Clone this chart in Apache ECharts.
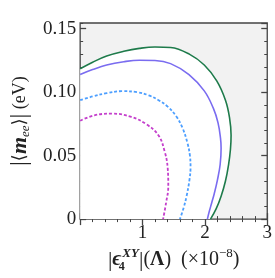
<!DOCTYPE html>
<html><head><meta charset="utf-8">
<script src="https://cdn.jsdelivr.net/npm/echarts@6/dist/echarts.min.js"></script>
<style>html,body{margin:0;padding:0;background:#fff}#c{width:275px;height:278px}</style>
</head><body><div id="c"></div>
<script>
// tick labels
const xTickValues = [1, 2, 3];
const xTickLabels = ['1', '2', '3'];
const yTickValues = [0, 0.05, 0.10, 0.15];
const yTickLabels = ['0', '0.05', '0.10', '0.15'];

// outer green contour
const greenX = [0, 0.2, 0.425, 0.7, 0.95, 1.2, 1.45, 1.75, 1.99, 2.19, 2.33, 2.395, 2.42, 2.41, 2.38, 2.33, 2.26, 2.18, 2.09];
const greenY = [0.1184, 0.1236, 0.1285, 0.1322, 0.1345, 0.1356, 0.1352, 0.1300, 0.1214, 0.1089, 0.0937, 0.0800, 0.0660, 0.0550, 0.0430, 0.0300, 0.0180, 0.0080, 0];
// purple contour
const purpleX = [0, 0.2, 0.425, 0.7, 0.95, 1.2, 1.45, 1.745, 1.99, 2.135, 2.21, 2.25, 2.26, 2.245, 2.2, 2.15, 2.11, 2.07, 2.04];
const purpleY = [0.1139, 0.1178, 0.1214, 0.1240, 0.1252, 0.1250, 0.1225, 0.1139, 0.1010, 0.0874, 0.0760, 0.0640, 0.0558, 0.0430, 0.0305, 0.0200, 0.0129, 0.0060, 0];
// blue dashed contour
const blueX = [0, 0.2, 0.425, 0.67, 0.915, 1.1, 1.257, 1.403, 1.54, 1.64, 1.72, 1.76, 1.77, 1.75, 1.706, 1.66, 1.6];
const blueY = [0.0937, 0.0966, 0.0992, 0.1008, 0.1000, 0.0975, 0.0937, 0.0886, 0.0810, 0.0720, 0.0600, 0.0500, 0.0407, 0.0300, 0.0180, 0.0090, 0];
// magenta dashed contour
const magX = [0, 0.23, 0.52, 0.82, 1.06, 1.257, 1.355, 1.403, 1.413, 1.378, 1.33];
const magY = [0.0775, 0.0818, 0.0831, 0.0805, 0.0748, 0.0659, 0.0533, 0.0407, 0.0255, 0.0129, 0];

const zip = (a, b) => a.map((v, i) => [v, b[i]]);
const FONT = '"Liberation Serif","DejaVu Serif",serif';

function xFmt(v) {
  const i = xTickValues.findIndex(t => Math.abs(t - v) < 1e-9);
  return i >= 0 ? xTickLabels[i] : '';
}
function yFmt(v) {
  const i = yTickValues.findIndex(t => Math.abs(t - v) < 1e-9);
  return i >= 0 ? yTickLabels[i] : '';
}

const chart = echarts.init(document.getElementById('c'), null, {renderer: 'canvas'});
const base = {min: 0, splitLine: {show: false}, axisLine: {show: false}};
const lbl = {fontFamily: FONT, fontSize: 19, color: '#222', margin: 4};

chart.setOption({
  animation: false,
  grid: {left: 64, top: 23, right: 6, bottom: 51, show: true, backgroundColor: '#f2f2f2', borderColor: '#444', borderWidth: 1.3},
  xAxis: [
    Object.assign({}, base, {type: 'value', position: 'bottom', max: 3, interval: 1,
      axisTick: {inside: true, length: 6, lineStyle: {color: '#444', width: 1.3}},
      minorTick: {show: true, splitNumber: 5, length: 3, lineStyle: {color: '#444', width: 1}},
      axisLabel: Object.assign({}, lbl, {formatter: xFmt, showMinLabel: false}),
      name: '{bar||}{eps|ϵ}{sub|4}{sup|XY}{bar||}{t|(}{lam|Λ}{t|)  (×10}{sup2|−8}{t|)}',
      nameLocation: 'middle', nameGap: 22,
      nameTextStyle: {fontFamily: FONT, fontSize: 20, color: '#222', rich: {
        bar: {fontFamily: FONT, fontSize: 22, lineHeight: 26, color: '#222'},
        eps: {fontFamily: FONT, fontSize: 21, fontWeight: 'bold', fontStyle: 'italic', lineHeight: 26, color: '#222'},
        sub: {fontFamily: FONT, fontSize: 12, fontWeight: 'bold', verticalAlign: 'bottom', lineHeight: 14, width: 1, color: '#222'},
        sup: {fontFamily: FONT, fontSize: 13, fontWeight: 'bold', fontStyle: 'italic', verticalAlign: 'top', lineHeight: 14, color: '#222'},
        t: {fontFamily: FONT, fontSize: 20, lineHeight: 26, color: '#222'},
        lam: {fontFamily: FONT, fontSize: 20, fontWeight: 'bold', lineHeight: 26, color: '#222'},
        sup2: {fontFamily: FONT, fontSize: 13, verticalAlign: 'top', lineHeight: 16, color: '#222'}
      }}
    }),
    Object.assign({}, base, {type: 'value', position: 'top', max: 3, interval: 1,
      axisTick: {inside: true, length: 6, lineStyle: {color: '#444', width: 1.3}},
      minorTick: {show: true, splitNumber: 5, length: 3, lineStyle: {color: '#444', width: 1}},
      axisLabel: {show: false}})
  ],
  yAxis: [
    Object.assign({}, base, {type: 'value', position: 'left', max: 0.1545, interval: 0.05,
      axisTick: {inside: true, length: 6, lineStyle: {color: '#444', width: 1.3}},
      axisLabel: Object.assign({}, lbl, {formatter: yFmt, showMaxLabel: false}),
      name: '{bar||}{ang|⟨}{m|m}{sub|ee}{ang|⟩}{bar||}{t| (eV)}',
      nameLocation: 'middle', nameGap: 41, nameRotate: 90,
      nameTextStyle: {fontFamily: FONT, fontSize: 18, color: '#222', rich: {
        bar: {fontFamily: FONT, fontSize: 24, lineHeight: 24, color: '#222'},
        ang: {fontFamily: '"DejaVu Serif",serif', fontSize: 18, lineHeight: 24, color: '#222'},
        m: {fontFamily: FONT, fontSize: 22, fontWeight: 'bold', fontStyle: 'italic', lineHeight: 24, color: '#222'},
        sub: {fontFamily: FONT, fontSize: 13, fontStyle: 'italic', verticalAlign: 'bottom', lineHeight: 14, color: '#222'},
        t: {fontFamily: FONT, fontSize: 18, lineHeight: 24, color: '#222'}
      }}
    }),
    Object.assign({}, base, {type: 'value', position: 'left', max: 0.1545, interval: 0.01,
      axisTick: {inside: true, length: 3, lineStyle: {color: '#444', width: 1}}, axisLabel: {show: false}}),
    Object.assign({}, base, {type: 'value', position: 'right', max: 0.1545, interval: 0.05,
      axisTick: {inside: true, length: 6, lineStyle: {color: '#444', width: 1.3}}, axisLabel: {show: false}}),
    Object.assign({}, base, {type: 'value', position: 'right', max: 0.1545, interval: 0.01,
      axisTick: {inside: true, length: 3, lineStyle: {color: '#444', width: 1}}, axisLabel: {show: false}})
  ],
  series: [
    {type: 'line', data: zip(greenX, greenY), smooth: 0.4, showSymbol: false, z: 1,
      lineStyle: {color: '#1e7b4b', width: 1.6}, areaStyle: {color: '#ffffff', opacity: 1, origin: 'start'}},
    {type: 'line', data: zip(purpleX, purpleY), smooth: 0.4, showSymbol: false, z: 3,
      lineStyle: {color: '#7a6cf0', width: 1.6}},
    {type: 'line', data: zip(blueX, blueY), smooth: 0.4, showSymbol: false, z: 3,
      lineStyle: {color: '#4d9fff', width: 1.8, type: [3, 2]}},
    {type: 'line', data: zip(magX, magY), smooth: 0.4, showSymbol: false, z: 3,
      lineStyle: {color: '#c43fcc', width: 1.8, type: [3, 2]}}
  ]
});
</script></body></html>
